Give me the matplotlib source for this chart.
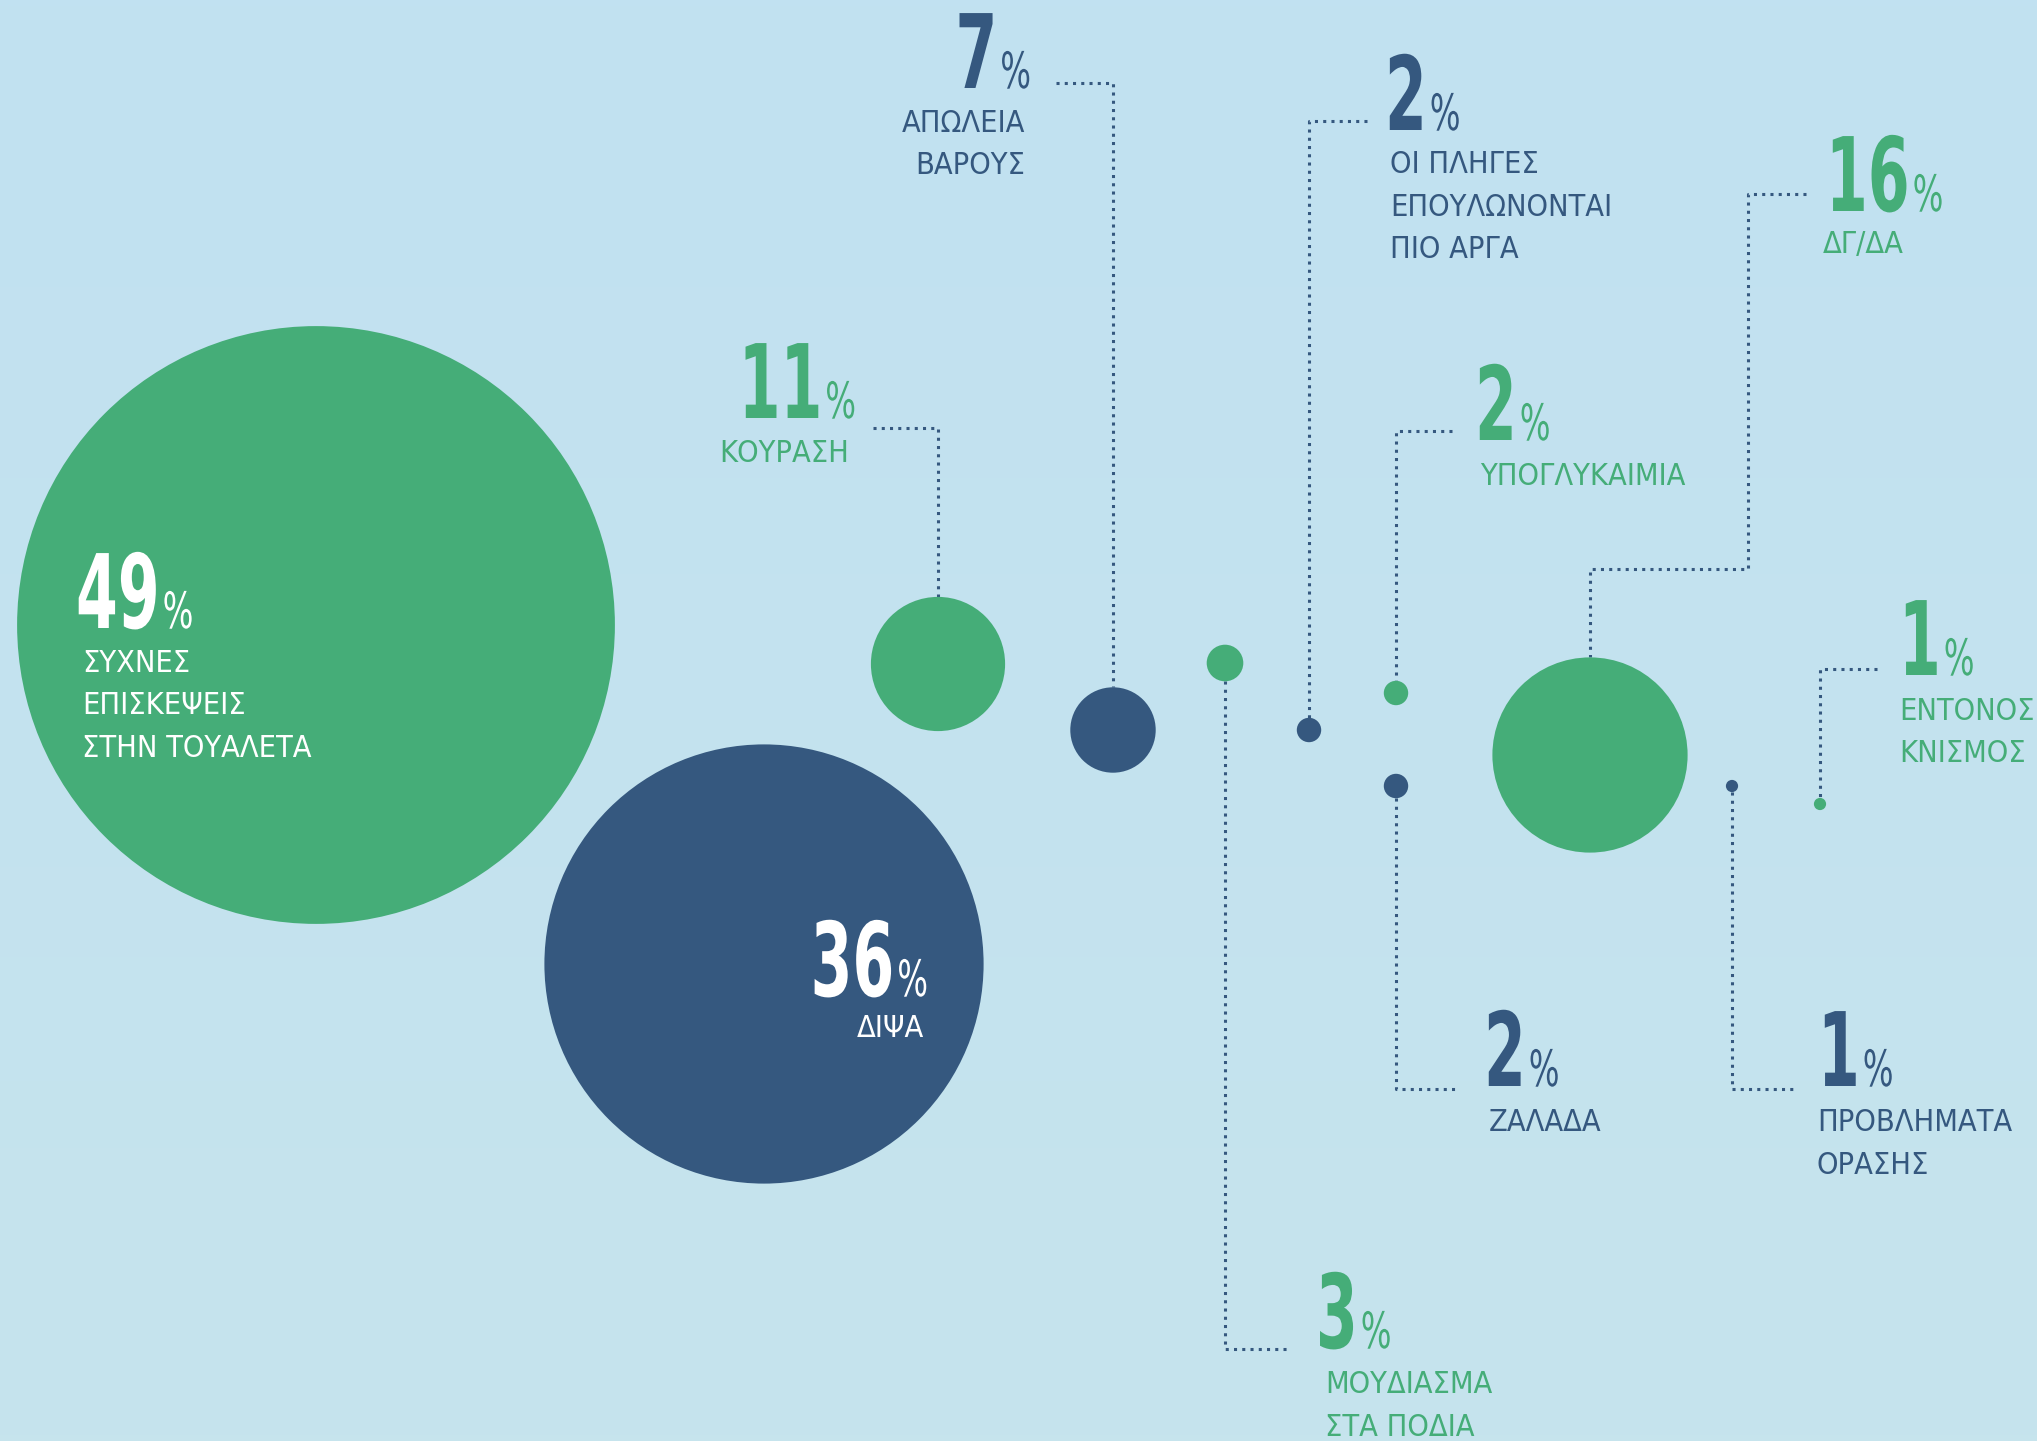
import numpy as np
import matplotlib
matplotlib.use("Agg")
import matplotlib.pyplot as plt
from matplotlib import font_manager as fm
from matplotlib.patches import Circle
from matplotlib.patheffects import AbstractPathEffect
from matplotlib.transforms import Affine2D

# data
values = [49, 36, 11, 7, 3, 2, 2, 2, 16, 1, 1]
labels = ["ΣΥΧΝΕΣ\nΕΠΙΣΚΕΨΕΙΣ\nΣΤΗΝ ΤΟΥΑΛΕΤΑ",
          "ΔΙΨΑ",
          "ΚΟΥΡΑΣΗ",
          "ΑΠΩΛΕΙΑ\nΒΑΡΟΥΣ",
          "ΜΟΥΔΙΑΣΜΑ\nΣΤΑ ΠΟΔΙΑ",
          "ΟΙ ΠΛΗΓΕΣ\nΕΠΟΥΛΩΝΟΝΤΑΙ\nΠΙΟ ΑΡΓΑ",
          "ΥΠΟΓΛΥΚΑΙΜΙΑ",
          "ΖΑΛΑΔΑ",
          "ΔΓ/ΔΑ",
          "ΠΡΟΒΛΗΜΑΤΑ\nΟΡΑΣΗΣ",
          "ΕΝΤΟΝΟΣ\nΚΝΙΣΜΟΣ"]
groups = ["g", "n", "g", "n", "g", "n", "g", "n", "g", "n", "g"]

# layout (pixel space of a 2037x1441 canvas)
W, H = 2037, 1441
centers = [(316, 625), (764, 964), (938, 664), (1113, 730), (1225, 663),
           (1309, 730), (1396, 693), (1396, 786), (1590, 755), (1732, 786),
           (1820, 804)]
# number x, number baseline, label x, first label baseline, align, inside circle
text_pos = [(76, 628, 82, 672, "left", True),
            (928, 996, 924, 1037, "right", True),
            (856, 418, 849, 462, "right", False),
            (1031, 88, 1025, 132, "right", False),
            (1316, 1348, 1325, 1393, "left", False),
            (1385, 130, 1390, 173, "left", False),
            (1475, 440, 1480, 485, "left", False),
            (1484, 1086, 1489, 1131, "left", False),
            (1826, 211, 1823, 253, "left", False),
            (1818, 1086, 1817, 1131, "left", False),
            (1899, 675, 1899, 720, "left", False)]
# leader elbows; side = where the line leaves the circle
leaders = [None, None,
           ("top", [(873, 428), (938, 428)]),
           ("top", [(1056, 83), (1113, 83)]),
           ("bottom", [(1225, 1349), (1291, 1349)]),
           ("top", [(1367, 121), (1309, 121)]),
           ("top", [(1452, 431), (1396, 431)]),
           ("bottom", [(1396, 1089), (1458, 1089)]),
           ("top", [(1806, 194), (1748, 194), (1748, 569), (1590, 569)]),
           ("bottom", [(1732, 1089), (1798, 1089)]),
           ("top", [(1877, 669), (1820, 669)])]

GREEN = "#45ad78"
NAVY = "#35587f"
colors = {"g": GREEN, "n": NAVY}
k = 6.1  # radius px per percent
line_step = 42.5
# condensed look: set a smaller size and stretch the glyphs upward
NUM_H, NUM_SQ = 74, 0.65
PCT_H, PCT_SQ = 36, 0.72


class Stretch(AbstractPathEffect):
    """stretch glyphs vertically from the baseline"""
    def __init__(self, sy):
        super().__init__()
        self.sy = sy

    def draw_path(self, renderer, gc, tpath, affine, rgbFace=None):
        renderer.draw_path(gc, tpath, Affine2D().scale(1, self.sy) + affine, rgbFace)


def wnum(w):
    if isinstance(w, (int, float)):
        return w
    return {"bold": 700, "normal": 400, "regular": 400, "book": 400,
            "medium": 500, "light": 300}.get(str(w).lower(), 400)


# look for a narrow / condensed face, otherwise fall back to Roboto
narrow = []
for f in fm.fontManager.ttflist:
    fn = f.fname.lower()
    if ("narrow" in fn or "condensed" in fn or "cond" in str(f.stretch)) \
            and f.style == "normal" and "semi" not in fn:
        narrow.append(f)
reg = [f for f in narrow if wnum(f.weight) <= 450]
bld = [f for f in narrow if wnum(f.weight) >= 600]
if reg:
    reg.sort(key=lambda f: abs(wnum(f.weight) - 400))
    font_reg = fm.FontProperties(fname=reg[0].fname)
    font_bld = fm.FontProperties(fname=(bld[0] if bld else reg[0]).fname)
    lab_size = 22
else:
    font_reg = fm.FontProperties(family="Roboto")
    font_bld = fm.FontProperties(family="Roboto", weight="bold")
    lab_size = 20.5

fig = plt.figure(figsize=(W / 100, H / 100), dpi=100)
ax = fig.add_axes([0, 0, 1, 1])
ax.set_xlim(0, W)
ax.set_ylim(H, 0)
ax.set_aspect("equal")
ax.axis("off")
renderer = fig.canvas.get_renderer()

# background gradient
top = np.array([193, 225, 241]) / 255
bot = np.array([198, 228, 237]) / 255
t = np.linspace(0, 1, 256)[:, None, None]
grad = top * (1 - t) + bot * t
ax.imshow(np.repeat(grad, 2, axis=1), extent=(0, W, H, 0), aspect="auto", zorder=0)

for i, v in enumerate(values):
    cx, cy = centers[i]
    r = v * k
    col = colors[groups[i]]
    ax.add_patch(Circle((cx, cy), r, color=col, lw=0, zorder=2))

    if leaders[i] is not None:
        side, pts = leaders[i]
        if side == "top":
            path = pts + [(cx, cy - r)]
        else:
            path = [(cx, cy + r)] + pts
        xs, ys = zip(*path)
        ax.plot(xs, ys, color=NAVY, lw=2.2, ls=(0, (1, 1.7)),
                dash_capstyle="butt", zorder=1)

    nx, nb, lx, lb, ha, inside = text_pos[i]
    tcol = "white" if inside else col
    num = ax.text(nx, nb, str(v), fontproperties=font_bld, fontsize=NUM_H * NUM_SQ,
                  color=tcol, ha="left", va="baseline", zorder=3,
                  path_effects=[Stretch(1 / NUM_SQ)])
    pct = ax.text(nx, nb, "%", fontproperties=font_reg, fontsize=PCT_H * PCT_SQ,
                  color=tcol, ha="left", va="baseline", zorder=3,
                  path_effects=[Stretch(1 / PCT_SQ)])
    wn = num.get_window_extent(renderer).width
    wp = pct.get_window_extent(renderer).width
    gap = 3
    if ha == "left":
        pct.set_x(nx + wn + gap)
    else:
        pct.set_x(nx - wp)
        num.set_x(nx - wp - gap - wn)
    for j, line in enumerate(labels[i].split("\n")):
        ax.text(lx, lb + j * line_step, line, fontproperties=font_reg,
                fontsize=lab_size, color=tcol, ha=ha, va="baseline", zorder=3)

fig.savefig("out.png", dpi=100)
